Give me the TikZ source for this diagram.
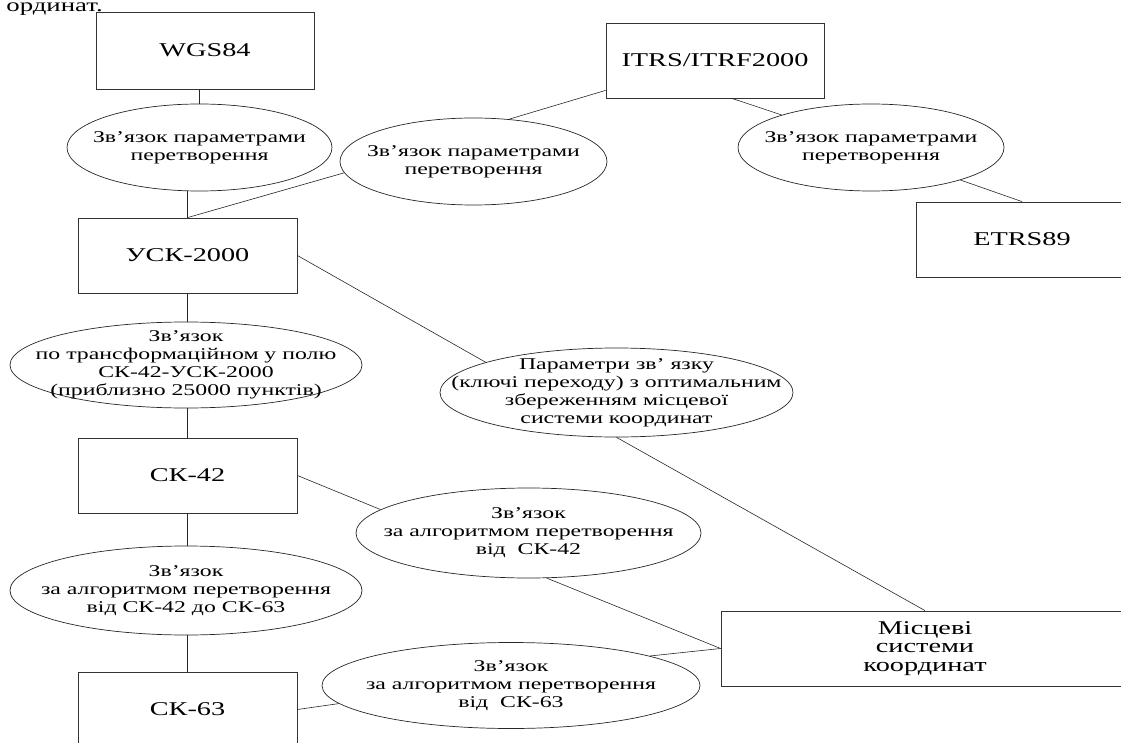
\documentclass[tikz,border=0pt]{standalone}
\usepackage{fontspec}
\setmainfont{Liberation Serif}[FakeStretch=1.45]
\usetikzlibrary{shapes.geometric}

\tikzset{
  sysbox/.style={draw=black!80, line width=0.8pt, rectangle, inner sep=0pt,
    minimum width=219pt, minimum height=75pt, align=center,
    font=\fontsize{19.5}{18.5}\selectfont},
  linkell/.style={draw=black!85, line width=0.7pt, ellipse, inner sep=-100pt,
    align=center, font=\fontsize{16.4}{18}\selectfont},
  link/.style={draw=black!85, line width=0.6pt}
}

\begin{document}
\begin{tikzpicture}[x=1pt, y=-1pt]
  \useasboundingbox (0,0) rectangle (1121,743);

  % end of the sentence above the scheme
  \node[anchor=base east, inner sep=0pt, font=\fontsize{18.5}{20}\selectfont] (tail) at (103,12) {ординат.};

  % --- coordinate systems ---
  \node[sysbox, minimum width=218pt, minimum height=77pt] (wgs) at (205,50.5) {WGS84};
  \node[sysbox, minimum width=218pt] (itrs) at (715,60.5) {ITRS/ITRF2000};
  \node[sysbox, minimum width=212pt] (etrs) at (1022,239.5) {ETRS89};
  \node[sysbox] (usk) at (187.5,255.5) {УСК-2000};
  \node[sysbox] (sk42) at (187.5,475.5) {СК-42};
  \node[sysbox] (sk63) at (187.5,709.5) {СК-63};
  \node[sysbox, minimum width=408pt] (local) at (925,648.5) {Місцеві\\системи\\координат};

  % --- links between them ---
  \node[linkell, minimum width=265pt, minimum height=87pt] (wgslink) at (199.5,147.5)
    {Зв’язок параметрами\\перетворення};
  \node[linkell, minimum width=267pt, minimum height=87pt] (itrslink) at (473.5,161.5)
    {Зв’язок параметрами\\перетворення};
  \node[linkell, minimum width=266pt, minimum height=87pt] (etrslink) at (871,147.5)
    {Зв’язок параметрами\\перетворення};
  \node[linkell, minimum width=353pt, minimum height=89pt] (keylink) at (616.5,392.5)
    {Параметри зв’ язку\\(ключі переходу) з оптимальним\\збереженням місцевої\\системи координат};
  \node[linkell, minimum width=352pt, minimum height=86pt] (fieldlink) at (186,365)
    {Зв’язок\\по трансформаційном у полю\\СК-42-УСК-2000\\(приблизно 25000 пунктів)};
  \node[linkell, minimum width=352pt, minimum height=89pt] (sklink) at (186,590.5)
    {Зв’язок\\за алгоритмом перетворення\\від СК-42 до СК-63};
  \node[linkell, minimum width=345pt, minimum height=90pt] (loclinka) at (528.5,533)
    {Зв’язок\\за алгоритмом перетворення\\від~~СК-42};
  \node[linkell, minimum width=378pt, minimum height=86pt] (loclinkb) at (511,685.5)
    {Зв’язок\\за алгоритмом перетворення\\від~~СК-63};

  % connectors
  \draw[link] (wgs.south -| wgslink.north) -- (wgslink.north);
  \draw[link] (wgslink.south -| usk.north) -- (usk.north);
  \draw[link] ([yshift=8pt]itrs.south west) -- (itrslink.50);
  \draw[link] (itrslink.185) -- (usk.north);
  \draw[link] (itrs.-66) -- (etrslink.160);
  \draw[link] (etrslink.-20) -- (etrs.north);
  \draw[link] (usk.east) -- (keylink.167);
  \draw[link] (keylink.south) -- (local.north);
  \draw[link] (usk.south) -- (fieldlink.north -| usk.south);
  \draw[link] (fieldlink.south -| sk42.north) -- (sk42.north);
  \draw[link] (sk42.south) -- (sklink.north -| sk42.south);
  \draw[link] (sklink.south -| sk63.north) -- (sk63.north);
  \draw[link] (sk42.east) -- (loclinka.171);
  \draw[link] (loclinka.-68) -- (local.west);
  \draw[link] (sk63.east) -- (loclinkb.186);
  \draw[link] (loclinkb.12) -- (local.west);
\end{tikzpicture}
\end{document}
